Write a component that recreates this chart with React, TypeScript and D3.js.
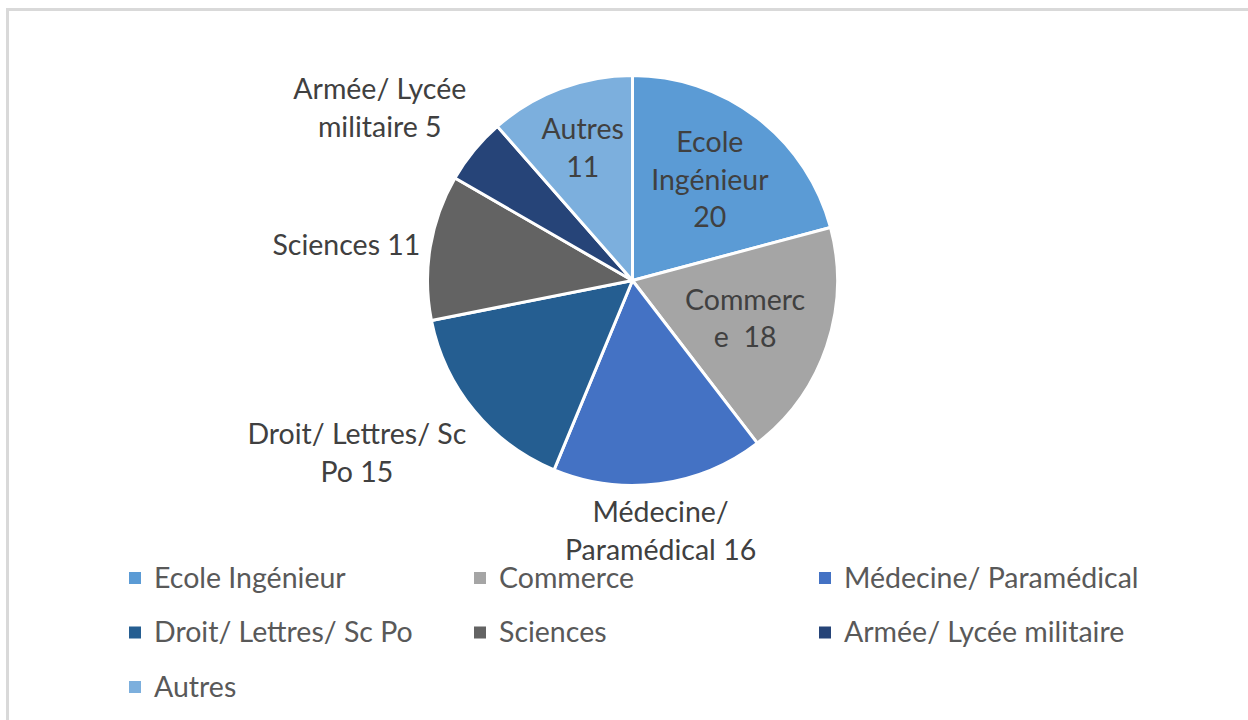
import React, { useRef, useEffect } from "react";
import * as d3 from "d3";

// categories and values, clockwise from 12 o'clock
const categories = [
  "Ecole Ingénieur",
  "Commerce",
  "Médecine/ Paramédical",
  "Droit/ Lettres/ Sc Po",
  "Sciences",
  "Armée/ Lycée militaire",
  "Autres",
];
const values = [20, 18, 16, 15, 11, 5, 11];
const colors = ["#5b9bd5", "#a5a5a5", "#4472c4", "#255e91", "#636363", "#264478", "#7cafdd"];

// data labels as wrapped in the original
const labelLines = [
  ["Ecole", "Ingénieur", "20"],
  ["Commerc", "e  18"],
  ["Médecine/", "Paramédical 16"],
  ["Droit/ Lettres/ Sc", "Po 15"],
  ["Sciences 11"],
  ["Armée/ Lycée", "militaire 5"],
  ["Autres", "11"],
];
const labelInside = [true, true, false, false, false, false, true];
const insideRadius = [0.62, 0.58, 0.6, 0.6, 0.6, 0.6, 0.69];

const W = 1248;
const H = 720;
const FONT = "Lato, 'Open Sans', sans-serif";

const App: React.FC = () => {
  const ref = useRef<SVGSVGElement | null>(null);

  useEffect(() => {
    if (!ref.current) return;
    const svg = d3.select(ref.current);
    svg.selectAll("*").remove();

    svg.append("rect").attr("width", W).attr("height", H).attr("fill", "#ffffff");
    // chart frame, runs off the right and bottom edges
    svg
      .append("rect")
      .attr("x", 7.5)
      .attr("y", 9.5)
      .attr("width", W + 20)
      .attr("height", H + 20)
      .attr("fill", "none")
      .attr("stroke", "#d9d9d9")
      .attr("stroke-width", 3);

    const cx = 632.5;
    const cy = 280.5;
    const r = 205;

    const data = categories.map((name, i) => ({ name, value: values[i], i }));
    const pie = d3
      .pie<any>()
      .value((d) => d.value)
      .sort(null);
    const arcs = pie(data);
    const arc = d3.arc<any>().innerRadius(0).outerRadius(r);

    const g = svg.append("g").attr("transform", `translate(${cx},${cy})`);
    g.selectAll("path")
      .data(arcs)
      .enter()
      .append("path")
      .attr("d", arc)
      .attr("fill", (d) => colors[d.data.i])
      .attr("stroke", "#ffffff")
      .attr("stroke-width", 3)
      .attr("stroke-linejoin", "round");

    const lineH = 37.5;
    const fontSize = 28.5;

    // soft sign used to place outside label boxes off the anchor point
    const side = (v: number) => Math.sign(v) * Math.min(1, Math.max(0, (Math.abs(v) - 0.25) / 0.4));

    arcs.forEach((a) => {
      const i = a.data.i;
      const lines = labelLines[i];
      const mid = (a.startAngle + a.endAngle) / 2;
      const sx = Math.sin(mid);
      const sy = -Math.cos(mid);
      const tg = g.append("g");
      const t = tg
        .append("text")
        .attr("font-family", FONT)
        .attr("font-size", fontSize)
        .attr("fill", "#404040")
        .attr("text-anchor", "middle");
      lines.forEach((ln, k) => {
        t.append("tspan")
          .attr("x", 0)
          .attr("y", (k - (lines.length - 1) / 2) * lineH)
          .attr("dy", "0.35em")
          .attr("xml:space", "preserve")
          .style("white-space", "pre")
          .text(ln);
      });
      let px: number;
      let py: number;
      if (labelInside[i]) {
        const rr = insideRadius[i] * r;
        px = sx * rr;
        py = sy * rr;
      } else {
        const bb = (t.node() as SVGTextElement).getBBox();
        const w = bb.width;
        const h = lines.length * lineH;
        const ar = r + 10;
        px = sx * ar + side(sx) * (w / 2);
        py = sy * ar + side(sy) * (h / 2);
      }
      tg.attr("transform", `translate(${px},${py})`);
    });

    // legend, three columns
    const leg = svg.append("g");
    const lx0 = 129;
    const colW = 345;
    const ly0 = 578;
    const rowH = 54.5;
    const item = leg
      .selectAll("g")
      .data(data)
      .enter()
      .append("g")
      .attr("transform", (d) => `translate(${lx0 + (d.i % 3) * colW},${ly0 + Math.floor(d.i / 3) * rowH})`);
    item
      .append("rect")
      .attr("x", 0)
      .attr("y", -6)
      .attr("width", 12)
      .attr("height", 12)
      .attr("fill", (d) => colors[d.i]);
    item
      .append("text")
      .attr("x", 25)
      .attr("y", 0)
      .attr("dy", "0.35em")
      .attr("font-family", FONT)
      .attr("font-size", fontSize)
      .attr("fill", "#595959")
      .text((d) => d.name);
  }, []);

  return (
    <svg
      ref={ref}
      width={W}
      height={H}
      style={{ position: "absolute", left: 0, top: 0, display: "block" }}
    ></svg>
  );
};

export default App;
